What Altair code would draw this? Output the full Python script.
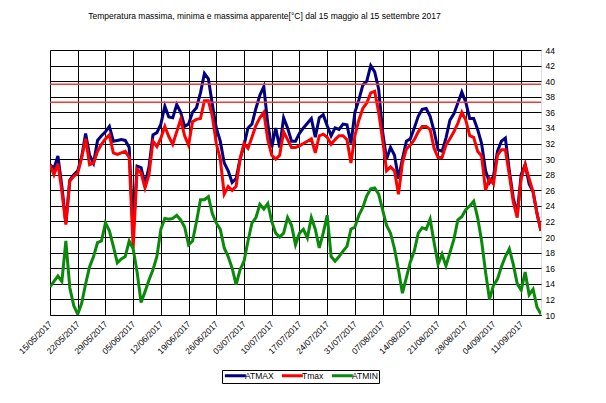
import altair as alt
import pandas as pd

start_date = "2017-05-15"
series_names = ["ATMAX", "Tmax", "ATMIN"]
series_colors = ["#000080", "#ff0000", "#0a8a0a"]

atmax = [29.3, 28.8, 30.4, 26.5, 21.8, 27.3, 28.0, 28.5, 30.3, 33.3,
         30.5, 29.5, 32.4, 33.0, 33.5, 34.2, 32.3, 32.4, 32.5, 32.4,
         31.5, 20.5, 29.1, 28.9, 26.8, 29.0, 33.1, 33.4, 34.5, 36.8,
         35.4, 35.3, 37.0, 36.0, 34.2, 34.5, 36.0, 36.6, 38.5, 41.0,
         40.3, 37.0, 34.0, 32.3, 29.5, 28.5, 27.0, 27.5, 30.0, 31.8,
         34.0, 34.5, 36.5, 38.2, 39.3, 34.5, 31.5, 34.0, 31.5, 35.3,
         34.0, 32.3, 32.3, 33.3, 34.0, 34.6, 35.2, 32.8, 35.3, 35.7,
         34.3, 33.0, 34.0, 33.8, 34.5, 34.4, 32.0, 36.0, 37.6, 39.5,
         40.0, 42.0, 41.2, 39.0, 33.5, 30.0, 31.5, 30.5, 27.5, 30.0,
         32.3, 32.6, 34.0, 35.5, 36.4, 36.5, 35.5, 33.6, 31.2, 31.0,
         32.7, 35.0, 35.8, 37.2, 38.6, 37.3, 35.2, 35.2, 33.8, 32.0,
         28.5, 27.0, 27.8, 31.0, 32.3, 32.7, 28.5, 25.0, 23.0, 28.0,
         29.3, 26.8, 25.8, 23.0, 20.8]

tmax = [29.3, 28.0, 29.4, 25.9, 21.6, 27.2, 27.8, 28.2, 30.2, 32.6,
        29.3, 29.5, 31.0, 31.9, 32.6, 33.1, 30.8, 30.6, 30.8, 31.0,
        30.2, 18.6, 28.7, 28.2, 26.3, 28.0, 32.3, 31.6, 32.7, 34.2,
        32.9, 31.9, 33.5, 35.1, 33.0, 31.8, 34.8, 35.1, 35.2, 37.5,
        37.5, 35.5, 32.0, 30.0, 25.5, 26.5, 26.0, 26.5, 30.0, 32.0,
        31.4, 32.8, 34.3, 35.3, 36.0, 32.5, 30.5, 30.0, 30.5, 33.5,
        32.5, 31.5, 31.5, 31.7, 32.0, 32.3, 32.6, 30.8, 33.0, 33.2,
        32.8, 31.9, 32.5, 33.0, 33.0, 32.5, 29.5, 33.0, 35.0, 36.5,
        37.2, 38.5, 38.7, 36.0, 32.5, 28.5, 29.0, 28.5, 25.5, 29.5,
        31.3, 31.8, 32.5, 33.5, 34.2, 34.2, 33.8, 31.4, 30.2, 30.2,
        31.8, 32.6, 33.5, 34.6, 36.0, 35.0, 33.0, 32.8, 31.0, 30.4,
        26.0, 27.5, 26.8, 30.5, 31.2, 31.2, 28.0, 24.5, 22.5, 27.5,
        29.3, 27.5, 25.8, 23.0, 20.8]

atmin = [13.6, 14.3, 15.0, 14.3, 19.5, 13.5, 11.2, 10.1, 11.5, 14.0,
         16.2, 17.5, 19.3, 19.5, 21.8, 20.8, 18.8, 16.7, 17.2, 17.5,
         19.5, 18.5, 15.5, 11.6, 13.0, 14.5, 15.8, 17.5, 21.0, 22.4,
         22.3, 22.4, 22.8, 22.2, 21.3, 19.0, 19.5, 22.0, 24.8, 24.8,
         25.2, 23.0, 21.8, 21.0, 18.6, 17.5, 16.0, 13.9, 15.8, 16.9,
         19.5, 21.8, 22.5, 24.2, 23.6, 24.3, 22.0, 20.5, 20.0, 20.5,
         22.5, 21.5, 19.0, 20.5, 21.0, 19.9, 22.5, 21.0, 18.6, 20.5,
         22.8, 17.5, 16.9, 17.5, 18.2, 18.8, 21.0, 21.3, 22.8, 23.8,
         25.3, 26.2, 26.3, 25.5, 23.5, 21.5, 20.5, 18.5, 15.8, 12.8,
         14.8, 16.8, 18.2, 20.5, 21.2, 21.0, 22.3, 19.3, 16.5, 17.8,
         16.3, 18.0, 19.7, 22.2, 22.6, 23.5, 24.0, 24.6, 22.5, 19.5,
         15.5, 12.0, 13.8, 14.6, 16.2, 17.5, 18.5, 16.5, 14.0, 13.2,
         15.5, 12.6, 13.3, 11.0, 10.1]

thresholds = [39.6, 37.3]

tick_labels = ["15/05/2017", "22/05/2017", "29/05/2017", "05/06/2017",
               "12/06/2017", "19/06/2017", "26/06/2017", "03/07/2017",
               "10/07/2017", "17/07/2017", "24/07/2017", "31/07/2017",
               "07/08/2017", "14/08/2017", "21/08/2017", "28/08/2017",
               "04/09/2017", "11/09/2017"]
y_ticks = list(range(10, 45, 2))

n = len(atmax)
dates = pd.date_range(start_date, periods=n, freq="D")
days = list(range(n))

rows = []
for name, vals in zip(series_names, [atmax, tmax, atmin]):
    for d, v in zip(days, vals):
        rows.append({"day": d, "value": v, "series": name})
df = pd.DataFrame(rows)

FONT = "Liberation Sans"
tick_vals = [7 * i for i in range(len(tick_labels))]
label_arr = "[" + ",".join("'%s'" % t for t in tick_labels) + "]"

x_enc = alt.X("day:Q",
              scale=alt.Scale(domain=[0, n - 1], nice=False, zero=False),
              axis=alt.Axis(values=tick_vals, tickCount=len(tick_vals) * 3,
                            labelExpr=label_arr + "[round(datum.value/7)]",
                            labelAngle=-45, labelAlign="right", labelBaseline="middle",
                            labelPadding=7, ticks=False, grid=True, gridColor="#000000",
                            gridWidth=1, domainColor="#000000", domainWidth=1.2,
                            labelFont=FONT, labelFontSize=8.5, labelColor="#000000",
                            title=None, labelOverlap=False))
y_enc = alt.Y("value:Q",
              scale=alt.Scale(domain=[10, 44], nice=False, zero=False),
              axis=alt.Axis(orient="right", values=y_ticks, tickCount=len(y_ticks) * 3,
                            format="d", grid=True, labelOverlap=False,
                            gridColor="#000000", gridWidth=1, domain=False, ticks=False,
                            labelPadding=4, labelFont=FONT, labelFontSize=8.5,
                            labelColor="#000000", title=None))
color_enc = alt.Color("series:N",
                      scale=alt.Scale(domain=series_names, range=series_colors),
                      legend=alt.Legend(orient="none", legendX=172, legendY=320,
                                        direction="horizontal", title=None,
                                        symbolType="M-1,0L7,0", symbolSize=27.5,
                                        symbolStrokeWidth=3, strokeColor="#000000",
                                        padding=1, columnPadding=1, labelOffset=13,
                                        labelFont=FONT, labelFontSize=8.5,
                                        labelColor="#000000", fillColor="#ffffff"))

layers = []
for name in series_names:
    layers.append(
        alt.Chart(df).transform_filter(alt.datum.series == name)
        .mark_line(strokeWidth=3, clip=True)
        .encode(x=x_enc, y=y_enc, color=color_enc)
    )

thr_df = pd.DataFrame({"value": thresholds})
rules = alt.Chart(thr_df).mark_rule(color="#f03a3a", strokeWidth=1.5).encode(y=y_enc)

chart = alt.layer(*layers, rules).properties(
    width=491, height=265,
    title=alt.TitleParams("Temperatura massima, minima e massima apparente[°C] dal 15 maggio al 15 settembre 2017",
                          font=FONT, fontSize=8.5, fontWeight="normal", color="#000000",
                          anchor="middle", offset=26, dx=-31),
    autosize=alt.AutoSizeParams(type="none"),
    padding={"left": 42, "top": 42, "right": 57, "bottom": 80},
).configure_view(stroke=None).configure(background="#ffffff")

chart.save("out.html", embed_options={"renderer": "svg", "actions": False})
